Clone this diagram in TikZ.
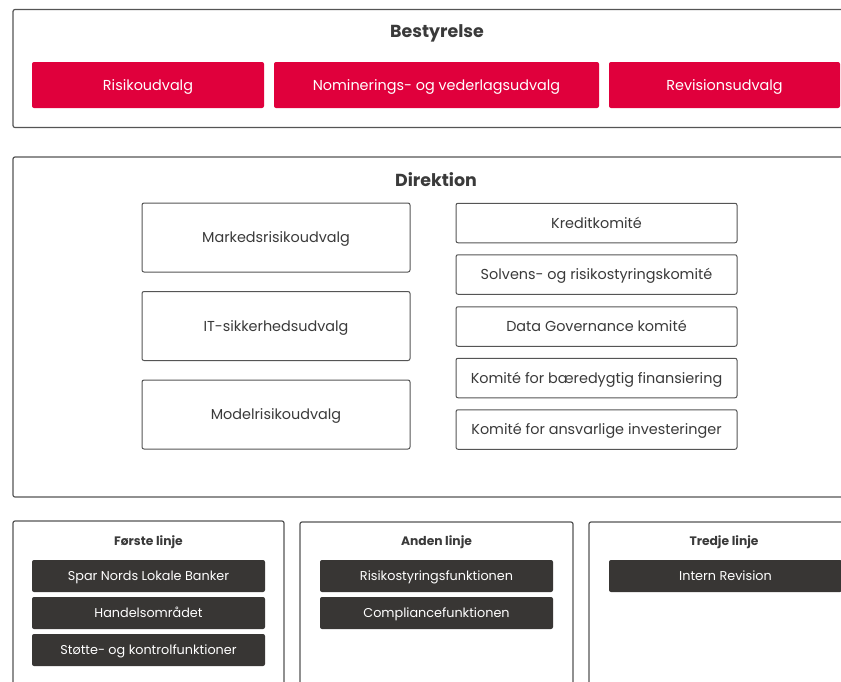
\documentclass[tikz,border=0pt]{standalone}
\usepackage{fontspec}
\setmainfont{Poppins}
\definecolor{brandred}{HTML}{E0003C}
\definecolor{darkbox}{HTML}{383634}
\definecolor{frame}{HTML}{555555}
\definecolor{ink}{HTML}{3A3A3A}
\begin{document}
\begin{tikzpicture}[x=1pt,y=-1pt,
  capcentre/.style={text height=#1,text depth=0pt,inner sep=0pt},
  panel/.style={draw=frame,line width=1.2pt,rounded corners=2pt,fill=white},
  redbox/.style={capcentre=10pt,fill=brandred,rounded corners=2pt,text=white,font=\fontsize{14.4}{16}\selectfont},
  whitebox/.style={capcentre=10pt,draw=frame,line width=1pt,rounded corners=2pt,text=ink,font=\fontsize{14.4}{16}\selectfont},
  darkbox/.style={capcentre=8.9pt,fill=darkbox,rounded corners=2pt,text=white,font=\fontsize{12.8}{14}\selectfont},
  bigtitle/.style={capcentre=12.1pt,text=ink,font=\bfseries\fontsize{17.4}{20}\selectfont},
  smalltitle/.style={capcentre=8.6pt,text=ink,font=\bfseries\fontsize{12.3}{14}\selectfont}]
\useasboundingbox (0,0) rectangle (841,681);
\clip (0,0) rectangle (841,681);

% Bestyrelse panel
\draw[panel] (13,9.5) rectangle (880,127.5);
\node[bigtitle] (best) at (437,31) {Bestyrelse};
\node[redbox,minimum width=232pt,minimum height=46pt] (risk) at (148,85) {Risikoudvalg};
\node[redbox,minimum width=325pt,minimum height=46pt] (nom) at (436.5,85) {Nominerings- og vederlagsudvalg};
\node[redbox,minimum width=231pt,minimum height=46pt] (rev) at (724.5,85) {Revisionsudvalg};

% Direktion panel
\draw[panel] (13,157) rectangle (880,497);
\node[bigtitle] (dir) at (436,180) {Direktion};
\node[whitebox,minimum width=268pt,minimum height=69pt] (mark) at (276,237.5) {Markedsrisikoudvalg};
\node[whitebox,minimum width=268pt,minimum height=69pt] (it) at (276,326) {IT-sikkerhedsudvalg};
\node[whitebox,minimum width=268pt,minimum height=69pt] (model) at (276,414.5) {Modelrisikoudvalg};
\node[whitebox,minimum width=281pt,minimum height=39.5pt] (kred) at (596.5,223) {Kreditkomité};
\node[whitebox,minimum width=281pt,minimum height=39.5pt] (solv) at (596.5,274.5) {Solvens- og risikostyringskomité};
\node[whitebox,minimum width=281pt,minimum height=39.5pt] (data) at (596.5,326.5) {Data Governance komité};
\node[whitebox,minimum width=281pt,minimum height=39.5pt] (baer) at (596.5,378) {Komité for bæredygtig finansiering};
\node[whitebox,minimum width=281pt,minimum height=39.5pt] (ansv) at (596.5,429.5) {Komité for ansvarlige investeringer};

% Lines of defence
\draw[panel] (13,521) rectangle (284,720);
\draw[panel] (300,522) rectangle (573,720);
\draw[panel] (589,522) rectangle (880,720);
\node[smalltitle] (l1) at (148.5,541) {Første linje};
\node[smalltitle] (l2) at (436.5,541) {Anden linje};
\node[smalltitle] (l3) at (724,541) {Tredje linje};
\node[darkbox,minimum width=233pt,minimum height=32pt] (spar) at (148.5,576) {Spar Nords Lokale Banker};
\node[darkbox,minimum width=233pt,minimum height=32pt] (hand) at (148.5,613) {Handelsområdet};
\node[darkbox,minimum width=233pt,minimum height=32pt] (stot) at (148.5,650) {Støtte- og kontrolfunktioner};
\node[darkbox,minimum width=233pt,minimum height=32pt] (rsf) at (436.5,576) {Risikostyringsfunktionen};
\node[darkbox,minimum width=233pt,minimum height=32pt] (comp) at (436.5,613) {Compliancefunktionen};
\node[darkbox,minimum width=233pt,minimum height=32pt] (intr) at (725.5,576) {Intern Revision};
\end{tikzpicture}
\end{document}
